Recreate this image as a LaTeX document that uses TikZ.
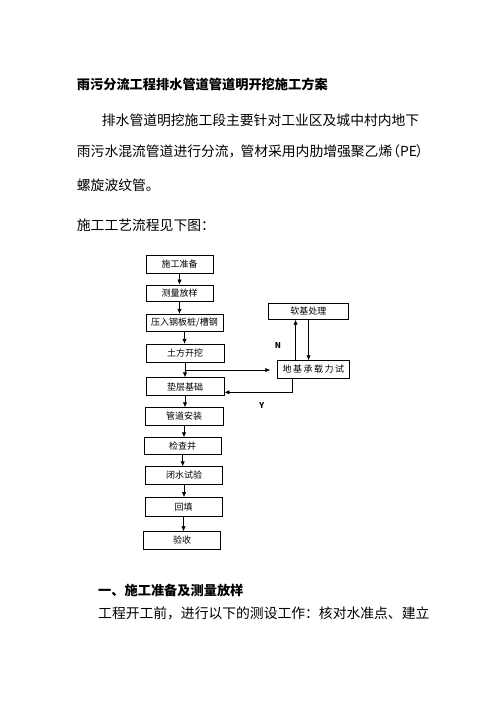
\documentclass[tikz,border=0pt]{standalone}
\usepackage{fontspec}
\setmainfont{Noto Sans CJK SC}
\usepackage{tikz}
\usetikzlibrary{positioning,calc,arrows.meta}
\tikzset{
	etape/.style={draw,line width=0.8pt,inner sep=0pt,font=\fontsize{9}{9}\selectfont},
	ligne/.style={anchor=west,inner sep=0pt,font=\fontsize{13.8}{14}\selectfont},
	titre/.style={anchor=west,inner sep=0pt,font=\bfseries\fontsize{13.2}{14}\selectfont},
	fleche/.style={-{Latex[length=5pt,width=4.5pt]},line width=0.8pt}
}

\begin{document}
\begin{tikzpicture}[x=1pt,y=-1pt]
	\useasboundingbox (0,0) rectangle (496,702);
	
	%Texte
	\node[titre] (titreA) at (76.7,84) {雨污分流工程排水管道管道明开挖施工方案};
	\node[ligne] (par1) at (101.7,120) {排水管道明挖施工段主要针对工业区及城中村内地下};
	\node[ligne] (par2) at (76.7,151.7) {雨污水混流管道进行分流，\hspace{-2pt}管材采用内肋增强聚乙烯\hspace{-6pt}（PE\hspace{-1pt}）};
	\node[ligne] (par3) at (76.7,185) {螺旋波纹管。};
	\node[ligne] (par4) at (76.7,225) {施工工艺流程见下图：};
	\node[titre] (titreB) at (98,590) {一、施工准备及测量放样};
	\node[ligne] (par5) at (98,613) {工程开工前，进行以下的测设工作：核对水准点、建立};
	
	%Etapes
	\foreach \nom/\cx/\cy/\w/\h/\txt in {
		b1/179.5/264.5/67/17.5/施工准备,
		b2/179.5/293.3/67/16.7/测量放样,
		b3/184.5/323/77/17.4/{压入钢板桩/槽钢},
		b4/185/353.3/78/18/土方开挖,
		b5/185/386.7/78/18/垫层基础,
		b6/184/416.3/78/17.3/管道安装,
		b7/182.7/446/76.7/16.6/检查井,
		b8/184/475.5/76.6/17.6/闭水试验,
		b9/183.5/507/77/19/回填,
		b10/182/540.5/77.7/17.6/验收,
		r1/308.3/311.3/80/16/软基处理,
		r2/313.3/369.5/71.3/17.6/{地\,基\,承\,载\,力\,试}}{
		\node[etape,minimum width=\w pt,minimum height=\h pt] (\nom) at (\cx,\cy) {\txt};
	}
	
	%Fleches
	\foreach \a/\b in {b1/b2,b2/b3,b3/b4,b4/b5,b5/b6,b6/b7,b7/b8,b8/b9,b9/b10}{
		\draw[fleche] (\a.south) -- (\a.south |- \b.north);
	}
	
	\coordinate (embr) at ($(b4.south)!0.5!(b5.north)$);
	\draw[fleche,shorten >=7pt] (embr) -- (embr -| r2.west);
	\draw[fleche] ([xshift=18.3pt]r2.north west) -- ([xshift=18.3pt]r2.north west |- r1.south);
	\draw[fleche] ([xshift=31.3pt]r2.north west |- r1.south) -- ([xshift=31.3pt]r2.north west);
	\draw[fleche] ([xshift=15.6pt]r2.south west) |- ([yshift=-5.6pt]b5.east);
	
	\node[font=\bfseries\fontsize{8}{8}\selectfont] (lblN) at (278,346) {N};
	\node[font=\bfseries\fontsize{8}{8}\selectfont] (lblY) at (261.7,405.7) {Y};
	
\end{tikzpicture}
\end{document}
